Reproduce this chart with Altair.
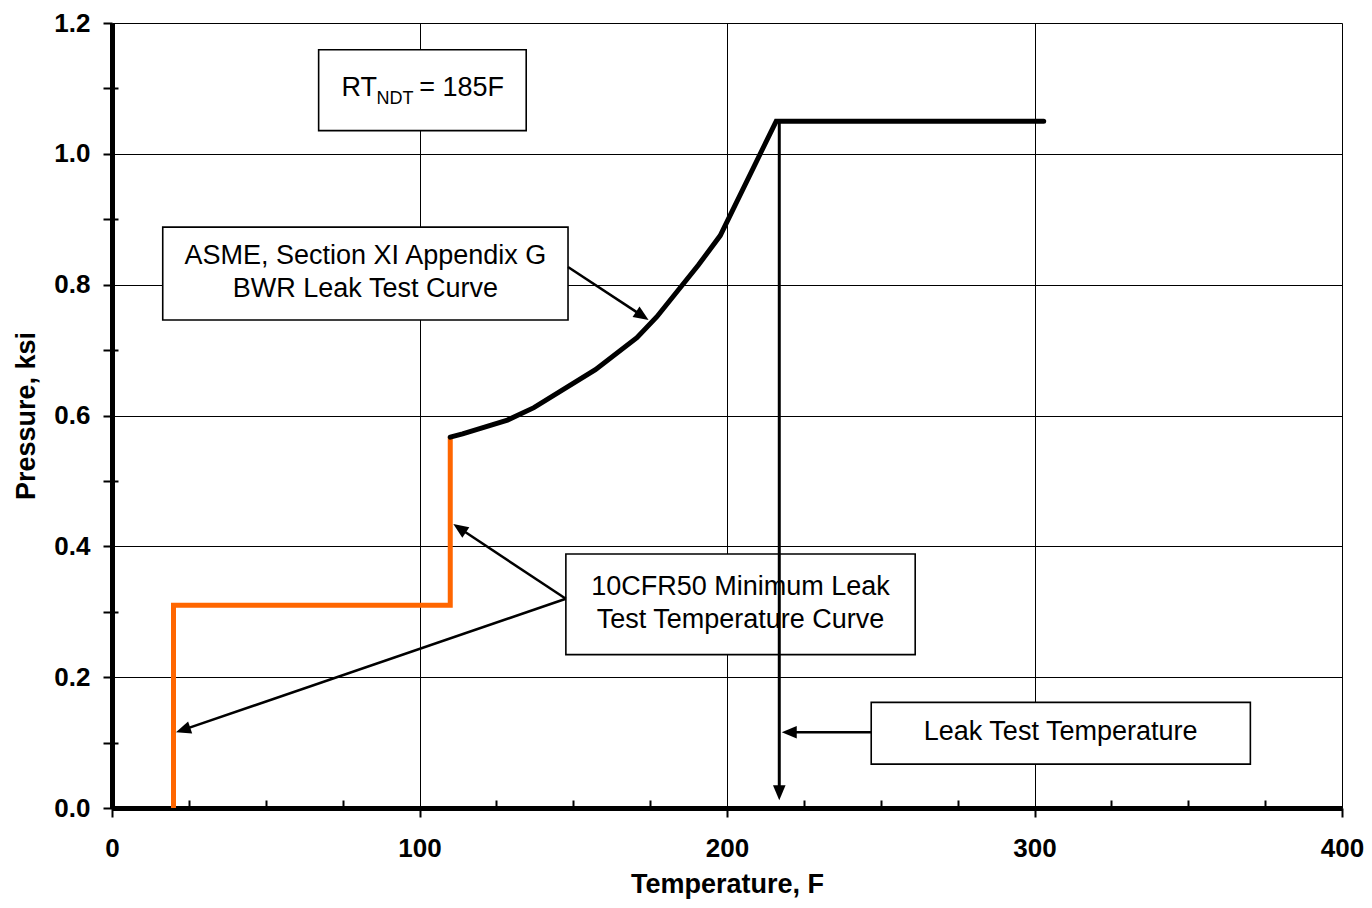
import math
import altair as alt
import pandas as pd

# ---------------- data ----------------
curve_T = [110, 114, 128.6, 137.2, 157.2, 170.7, 177.2, 190.7, 197.8, 216, 303]
curve_P = [0.567, 0.572, 0.593, 0.612, 0.670, 0.719, 0.751, 0.830, 0.875, 1.05, 1.05]

cfr_T = [20, 20, 110, 110]
cfr_P = [0.0, 0.31, 0.31, 0.567]

leak_T = 217
leak_P = [1.05, 0.012]

x_major = [0, 100, 200, 300, 400]
x_minor = [25, 50, 75, 125, 150, 175, 225, 250, 275, 325, 350, 375]
y_major = [0.0, 0.2, 0.4, 0.6, 0.8, 1.0, 1.2]
y_minor = [0.1, 0.3, 0.5, 0.7, 0.9, 1.1]

# annotation boxes (data units)
box_x0 = [67.2, 16.5, 147.6, 246.9]
box_x1 = [134.7, 148.3, 261.2, 370.2]
box_y0 = [1.0355, 0.746, 0.2345, 0.067]
box_y1 = [1.159, 0.888, 0.3883, 0.1614]

label_text = ["ASME, Section XI Appendix G\nBWR Leak Test Curve",
              "10CFR50 Minimum Leak\nTest Temperature Curve",
              "Leak Test Temperature"]
label_x = [82.4, 204.4, 308.5]
label_y = [0.8437, 0.3381, 0.1157]

# arrows: start -> tip
arrow_x0 = [148.3, 147.6, 147.6, 246.9]
arrow_y0 = [0.827, 0.3198, 0.3198, 0.1157]
arrow_x1 = [174.5, 111.0, 20.8, 217.8]
arrow_y1 = [0.746, 0.434, 0.1157, 0.1157]

FONT = "Liberation Sans"
W, H = 1230, 785
XDOM = [0, 400]
YDOM = [0, 1.2]
SX = W / (XDOM[1] - XDOM[0])
SY = H / (YDOM[1] - YDOM[0])
HEAD = 15.0  # arrow head length in px
ARROW_PATH = "M0,0L-1,-0.42L-1,0.42Z"


def X(field, axis=None):
    return alt.X(field, type="quantitative", scale=alt.Scale(domain=XDOM, nice=False, zero=False), axis=axis)


def Y(field, axis=None):
    return alt.Y(field, type="quantitative", scale=alt.Scale(domain=YDOM, nice=False, zero=False), axis=axis)


# ---------------- tables ----------------
curve_df = pd.DataFrame({"T": curve_T, "P": curve_P, "i": range(len(curve_T))})
cfr_df = pd.DataFrame({"T": cfr_T, "P": cfr_P, "i": range(len(cfr_T))})
box_df = pd.DataFrame({"x0": box_x0, "x1": box_x1, "y0": box_y0, "y1": box_y1})
label_df = pd.DataFrame({"x": label_x, "y": label_y, "t": label_text})

seg_rows, head_rows = [], []
for x0, y0, x1, y1 in zip(arrow_x0, arrow_y0, arrow_x1, arrow_y1):
    dx = (x1 - x0) * SX
    dy = -(y1 - y0) * SY
    L = math.hypot(dx, dy)
    f = (L - HEAD * 0.8) / L
    seg_rows.append({"x0": x0, "y0": y0, "x1": x0 + (x1 - x0) * f, "y1": y0 + (y1 - y0) * f})
    head_rows.append({"x": x1, "y": y1, "a": math.degrees(math.atan2(dy, dx)) % 360})
seg_df = pd.DataFrame(seg_rows)

# leak test vertical line with head at bottom
leak_df = pd.DataFrame({"x0": [leak_T], "y0": [leak_P[0]],
                        "y1": [leak_P[1] + (HEAD * 0.8) / SY]})
head_rows.append({"x": leak_T, "y": leak_P[1], "a": 90.0})
head_df = pd.DataFrame(head_rows)

# ---------------- axes ----------------
x_axis = alt.Axis(values=x_major, format="d", title="Temperature, F", grid=True,
                  gridColor="black", gridWidth=1, gridOpacity=1,
                  tickSize=9, tickWidth=2, tickColor="black",
                  domainColor="black", domainWidth=5,
                  labelFont=FONT, labelFontSize=26, labelFontWeight="bold", labelColor="black",
                  labelPadding=18, labelFlush=False, labelOverlap=False,
                  titleFont=FONT, titleFontSize=27, titleFontWeight="bold", titleColor="black",
                  titlePadding=10)
y_axis = alt.Axis(values=y_major, format=".1f", title="Pressure, ksi", grid=True,
                  gridColor="black", gridWidth=1, gridOpacity=1,
                  tickSize=9, tickWidth=2, tickColor="black",
                  domainColor="black", domainWidth=5,
                  labelFont=FONT, labelFontSize=26, labelFontWeight="bold", labelColor="black",
                  labelPadding=13, labelFlush=False, labelOverlap=False,
                  titleFont=FONT, titleFontSize=27, titleFontWeight="bold", titleColor="black",
                  titlePadding=13)
x_minor_axis = alt.Axis(values=x_minor, orient="bottom", offset=-8, tickSize=8, tickWidth=2,
                        tickColor="black", domain=False, labels=False, grid=False, title=None)
y_minor_axis = alt.Axis(values=y_minor, orient="left", offset=-6, tickSize=15, tickWidth=2,
                        tickColor="black", domain=False, labels=False, grid=False, title=None)

# ---------------- layers ----------------
boxes = alt.Chart(box_df).mark_rect(fill="white", stroke="black", strokeWidth=1.6).encode(
    x=X("x0", x_axis), x2="x1", y=Y("y0", y_axis), y2="y1")

minor = alt.Chart(box_df).mark_point(opacity=0).encode(
    x=X("x0", x_minor_axis), y=Y("y0", y_minor_axis))

cfr_line = alt.Chart(cfr_df).mark_line(color="#FF6600", strokeWidth=5, strokeJoin="miter",
                                       strokeCap="butt").encode(
    x=X("T"), y=Y("P"), order="i:Q")

curve_line = alt.Chart(curve_df).mark_line(color="black", strokeWidth=5, strokeJoin="miter",
                                           strokeCap="round").encode(
    x=X("T"), y=Y("P"), order="i:Q")

leak_line = alt.Chart(leak_df).mark_rule(color="black", strokeWidth=3).encode(
    x=X("x0"), y=Y("y0"), y2="y1")

arrow_lines = alt.Chart(seg_df).mark_rule(color="black", strokeWidth=2.5).encode(
    x=X("x0"), y=Y("y0"), x2="x1", y2="y1")

heads = alt.Chart(head_df).mark_point(shape=ARROW_PATH, size=(2 * HEAD) ** 2, filled=True,
                                      color="black", opacity=1, strokeWidth=0).encode(
    x=X("x"), y=Y("y"), angle=alt.Angle("a:Q", scale=None))

labels = alt.Chart(label_df).mark_text(font=FONT, fontSize=27, color="black", align="center",
                                       baseline="middle", lineBreak="\n", lineHeight=33).encode(
    x=X("x"), y=Y("y"), text="t:N")

rt_big = alt.Chart(pd.DataFrame({"x": [74.6, 99.9], "y": [1.101, 1.101], "t": ["RT", "= 185F"]})).mark_text(
    font=FONT, fontSize=27, color="black", align="left", baseline="middle").encode(
    x=X("x"), y=Y("y"), text="t:N")
rt_sub = alt.Chart(pd.DataFrame({"x": [86.0], "y": [1.0835], "t": ["NDT"]})).mark_text(
    font=FONT, fontSize=18, color="black", align="left", baseline="middle").encode(
    x=X("x"), y=Y("y"), text="t:N")

chart = alt.layer(boxes, minor, cfr_line, curve_line, leak_line, arrow_lines, heads,
                  labels, rt_big, rt_sub).resolve_axis(
    x="independent", y="independent").properties(
    width=W, height=H,
    padding={"left": 104, "top": 15, "right": 22, "bottom": 92},
    autosize=alt.AutoSizeParams(type="none"),
    background="white",
).configure_view(stroke="black", strokeWidth=5).configure(font=FONT)

chart.save("out.html", embed_options={"renderer": "svg", "actions": False})
